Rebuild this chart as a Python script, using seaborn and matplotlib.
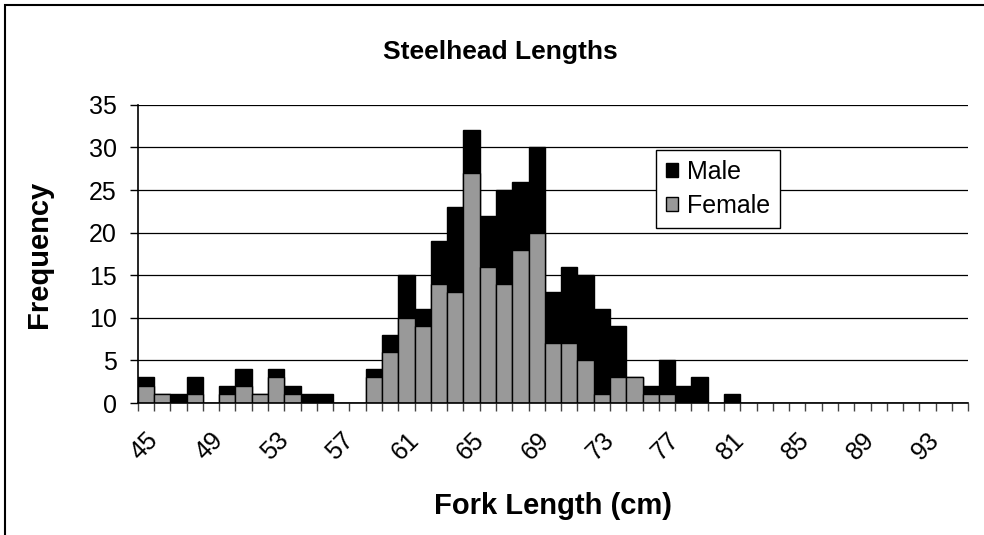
import numpy as np
import matplotlib
matplotlib.use("Agg")
import matplotlib.pyplot as plt
from matplotlib.patches import Patch, Rectangle
import seaborn as sns

# --- Data ---
lengths = list(range(45, 96))
female = [2, 1, 0, 1, 0, 1, 2, 1, 3, 1, 0, 0, 0, 0,
          3, 6, 10, 9, 14, 13, 27, 16, 14, 18, 20, 7, 7, 5, 1, 3, 3, 1, 1, 0, 0, 0, 0] + [0] * 14
male = [1, 0, 1, 2, 0, 1, 2, 0, 1, 1, 1, 1, 0, 0,
        1, 2, 5, 2, 5, 10, 5, 6, 11, 8, 10, 6, 9, 10, 10, 6, 0, 1, 4, 2, 3, 0, 1] + [0] * 14
tick_labels = [str(v) for v in range(45, 94, 4)]

total = [f + m for f, m in zip(female, male)]
cats = [str(v) for v in lengths]

sns.set_theme(style="white")
plt.rcParams['font.family'] = ['Liberation Sans', 'DejaVu Sans']
plt.rcParams.update({'text.color': 'black', 'axes.labelcolor': 'black',
                     'xtick.color': 'black', 'ytick.color': 'black'})

fig = plt.figure(figsize=(9.84, 5.35), dpi=100)
ax = fig.add_axes([0.140, 0.2467, 0.844, 0.5573])

# stacked: total (black) first, female (grey) on top of it
sns.barplot(x=cats, y=total, order=cats, color='black', width=1.0,
            edgecolor='black', linewidth=1, saturation=1, ax=ax)
sns.barplot(x=cats, y=female, order=cats, color='#999999', width=1.0,
            edgecolor='black', linewidth=1, saturation=1, ax=ax)

ax.set_ylim(0, 35)
ax.set_xlim(-0.5, len(cats) - 0.5)
ax.set_yticks(range(0, 36, 5))
ax.yaxis.grid(True, color='black', linewidth=0.9)
ax.set_axisbelow(True)

# category labels every 4 bins, tick marks between bins
ax.set_xticks(range(0, len(cats), 4)[:len(tick_labels)])
ax.set_xticklabels(tick_labels, rotation=45, ha='right', rotation_mode='anchor', fontsize=18)
ax.set_xticks(np.arange(len(cats) + 1) - 0.5, minor=True)
ax.tick_params(axis='x', which='major', length=0, pad=18)
ax.tick_params(axis='x', which='minor', bottom=True, length=6, width=1, color='#444444', direction='out')
ax.tick_params(axis='y', left=True, length=6, width=1, color='black', labelsize=18, pad=9)

for s in ['top', 'right']:
    ax.spines[s].set_visible(False)
for s in ['left', 'bottom']:
    ax.spines[s].set_color('black')
    ax.spines[s].set_linewidth(1.2)

ax.set_xlabel('Fork Length (cm)', fontsize=21, fontweight='bold')
ax.xaxis.set_label_coords(0.5, -0.30)
ax.set_ylabel('Frequency', fontsize=21, fontweight='bold')
ax.yaxis.set_label_coords(-0.102, 0.5)
fig.text(0.509, 0.903, 'Steelhead Lengths', ha='center', va='center', fontsize=19, fontweight='bold')

handles = [Patch(facecolor='black', edgecolor='black', label='Male'),
           Patch(facecolor='#999999', edgecolor='black', label='Female')]
leg = ax.legend(handles=handles, loc='upper left', bbox_to_anchor=(0.624, 0.849),
                borderaxespad=0, fontsize=18, frameon=True, fancybox=False, framealpha=1,
                edgecolor='black', handlelength=0.5, handleheight=0.5,
                handletextpad=0.35, borderpad=0.4, labelspacing=0.4)
leg.get_frame().set_linewidth(1)

# chart-area border (left and top visible in reference)
fig.patches.append(Rectangle((0.005, -0.05), 1.2, 1.04, transform=fig.transFigure,
                             fill=False, edgecolor='black', linewidth=1.5))

fig.savefig('out.png', dpi=100)
